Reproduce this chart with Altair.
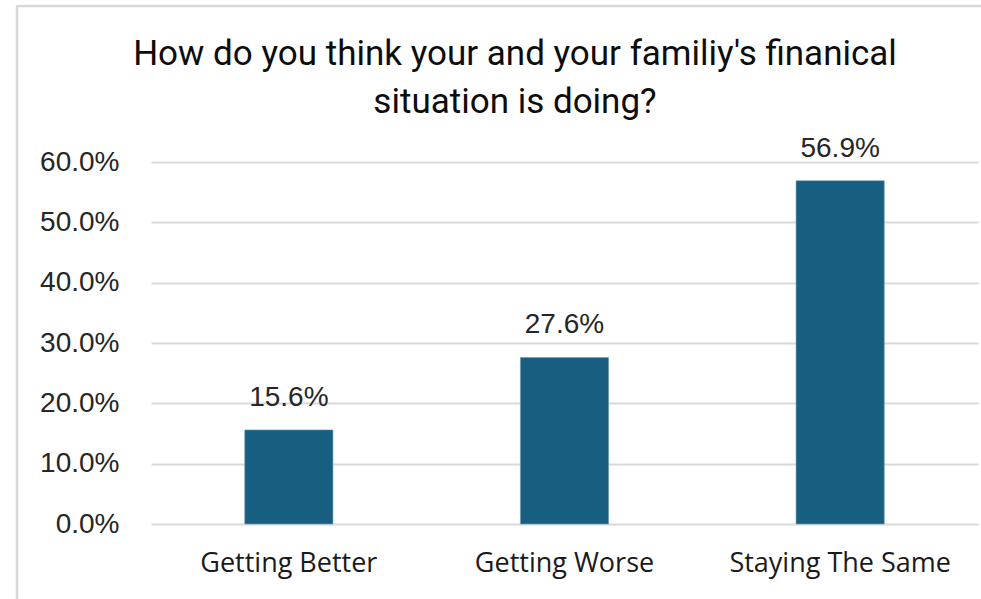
import altair as alt
import pandas as pd

categories = ["Getting Better", "Getting Worse", "Staying The Same"]
values = [0.156, 0.276, 0.569]
title_lines = ["How do you think your and your familiy's finanical", "situation is doing?"]
y_ticks = [0.0, 0.1, 0.2, 0.3, 0.4, 0.5, 0.6]

df = pd.DataFrame({"category": categories, "value": values})

x_enc = alt.X("category:N", sort=categories,
              scale=alt.Scale(paddingInner=0.68, paddingOuter=0.34),
              axis=alt.Axis(title=None, labelAngle=0, labelFont="Open Sans", labelFontSize=27,
                            labelColor="#1a1a1a", labelPadding=26, labelLimit=400,
                            ticks=False, domain=False))
y_enc = alt.Y("value:Q", scale=alt.Scale(domain=[0, 0.6], nice=False),
              axis=alt.Axis(title=None, format=".1%", values=y_ticks, labelFont="Liberation Sans",
                            labelFontSize=28, labelColor="#262626", labelPadding=32,
                            ticks=False, domain=False, gridColor="#d9d9d9", gridWidth=2))

bars = alt.Chart(df).mark_bar(color="#175E80", stroke="#6f9fb8", strokeWidth=0.6).encode(x=x_enc, y=y_enc)
labels = alt.Chart(df).mark_text(dy=-24, baseline="alphabetic", font="Liberation Sans",
                                 fontSize=28, color="#262626").encode(
    x=alt.X("category:N", sort=categories), y="value:Q", text=alt.Text("value:Q", format=".1%"))

one = pd.DataFrame({"a": [0]})
left_line = alt.Chart(one).mark_rule(color="#d9d9d9", strokeWidth=2.5).encode(
    x=alt.value(-134), y=alt.value(-156), y2=alt.value(450))
top_line = alt.Chart(one).mark_rule(color="#d9d9d9", strokeWidth=2.5).encode(
    x=alt.value(-135), x2=alt.value(840), y=alt.value(-156))

title1 = alt.Chart(pd.DataFrame({"t": [title_lines[0]]})).mark_text(
    font="Roboto", fontSize=35, color="#0d0d0d", align="center", baseline="alphabetic"
).encode(text="t:N", x=alt.value(364), y=alt.value(-97))
title2 = alt.Chart(pd.DataFrame({"t": [title_lines[1]]})).mark_text(
    font="Roboto", fontSize=35, color="#0d0d0d", align="center", baseline="alphabetic"
).encode(text="t:N", x=alt.value(364), y=alt.value(-49))

chart = alt.layer(bars, labels, left_line, top_line, title1, title2).properties(
    width=827, height=362,
    padding={"left": 151, "top": 162, "right": 3, "bottom": 75},
    autosize=alt.AutoSizeParams(type="none"),
).configure_view(stroke=None)

chart.save("out.html", embed_options={"renderer": "svg", "actions": False})
